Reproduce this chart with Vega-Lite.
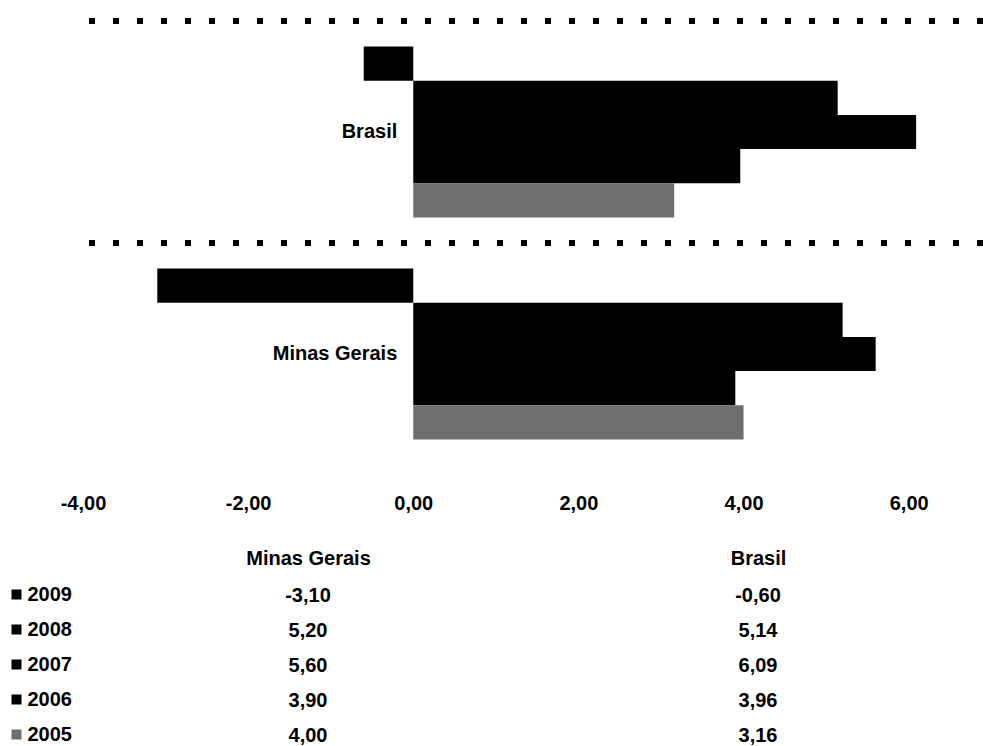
{
  "$schema": "https://vega.github.io/schema/vega-lite/v6.json",
  "background": "white",
  "padding": {"left": 0, "top": 18, "right": 0, "bottom": 0},
  "config": {
    "locale": {"number": {"decimal": ",", "thousands": ".", "grouping": [3], "currency": ["", ""], "minus": "-"}},
    "view": {"stroke": null},
    "font": "Liberation Sans, Arial",
    "axis": {"labelFontWeight": "bold", "labelFontSize": 20, "labelColor": "black"},
    "text": {"fontWeight": "bold", "fontSize": 20, "color": "black"},
    "concat": {"spacing": 34}
  },
  "datasets": {
    "rows": [
      {"region": "Brasil", "year": "2009", "value": -0.60},
      {"region": "Brasil", "year": "2008", "value": 5.14},
      {"region": "Brasil", "year": "2007", "value": 6.09},
      {"region": "Brasil", "year": "2006", "value": 3.96},
      {"region": "Brasil", "year": "2005", "value": 3.16},
      {"region": "Minas Gerais", "year": "2009", "value": -3.10},
      {"region": "Minas Gerais", "year": "2008", "value": 5.20},
      {"region": "Minas Gerais", "year": "2007", "value": 5.60},
      {"region": "Minas Gerais", "year": "2006", "value": 3.90},
      {"region": "Minas Gerais", "year": "2005", "value": 4.00}
    ],
    "regions": [
      {"region": "Brasil"},
      {"region": "Minas Gerais"}
    ]
  },
  "resolve": {"legend": {"color": "independent"}},
  "vconcat": [
    {
      "width": 900,
      "height": 444,
      "layer": [
        {
          "data": {"name": "regions"},
          "mark": {"type": "rule", "color": "black", "strokeWidth": 6, "strokeDash": [6, 18], "strokeCap": "butt"},
          "encoding": {
            "y": {"field": "region", "type": "nominal", "bandPosition": 0, "sort": ["Brasil", "Minas Gerais"], "scale": {"paddingInner": 0, "paddingOuter": 0}, "axis": null}
          }
        },
        {
          "data": {"name": "rows"},
          "mark": {"type": "bar"},
          "encoding": {
            "y": {"field": "region", "type": "nominal", "sort": ["Brasil", "Minas Gerais"], "scale": {"paddingInner": 0, "paddingOuter": 0}, "axis": null},
            "yOffset": {"field": "year", "type": "nominal", "sort": ["2009", "2008", "2007", "2006", "2005"], "scale": {"paddingInner": 0, "paddingOuter": 0.745}},
            "x": {"field": "value", "type": "quantitative", "scale": {"domain": [-4, 6.9], "nice": false, "zero": false},
                  "axis": {"title": null, "values": [-4, -2, 0, 2, 4, 6], "format": ".2f", "grid": false, "domain": false, "ticks": false, "labelPadding": 28.5, "labelFlush": false}},
            "color": {"field": "year", "type": "nominal", "scale": {"domain": ["2009", "2008", "2007", "2006", "2005"], "range": ["#000000", "#000000", "#000000", "#000000", "#6e6e6e"]}, "legend": null}
          }
        },
        {
          "data": {"name": "regions"},
          "mark": {"type": "text", "align": "right", "baseline": "middle", "dx": -16},
          "encoding": {
            "y": {"field": "region", "type": "nominal", "sort": ["Brasil", "Minas Gerais"], "axis": null},
            "x": {"datum": 0, "type": "quantitative", "axis": {"title": null}},
            "text": {"field": "region", "type": "nominal"}
          }
        }
      ]
    },
    {
      "width": 900,
      "height": 175,
      "data": {"name": "rows"},
      "encoding": {
        "x": {"field": "region", "type": "nominal", "sort": ["Minas Gerais", "Brasil"], "scale": {"paddingInner": 0, "paddingOuter": 0},
              "axis": {"orient": "top", "title": null, "domain": false, "ticks": false, "labelAngle": 0, "labelPadding": 10}},
        "y": {"field": "year", "type": "nominal", "sort": ["2009", "2008", "2007", "2006", "2005"], "scale": {"paddingInner": 0, "paddingOuter": 0}, "axis": null}
      },
      "layer": [
        {
          "mark": {"type": "square", "opacity": 0},
          "encoding": {
            "color": {"field": "year", "type": "nominal", "scale": {"domain": ["2009", "2008", "2007", "2006", "2005"], "range": ["#000000", "#000000", "#000000", "#000000", "#6e6e6e"]},
                      "legend": {"orient": "left", "title": null, "symbolType": "square", "symbolSize": 100, "symbolOpacity": 1, "symbolStrokeWidth": 0,
                                 "labelFontSize": 20, "labelFontWeight": "bold", "labelColor": "black", "labelOffset": 1, "rowPadding": 15, "padding": 6.5, "offset": 4.5}}
          }
        },
        {
          "mark": {"type": "text", "baseline": "middle"},
          "encoding": {"text": {"field": "value", "type": "quantitative", "format": ".2f"}}
        }
      ]
    }
  ]
}
